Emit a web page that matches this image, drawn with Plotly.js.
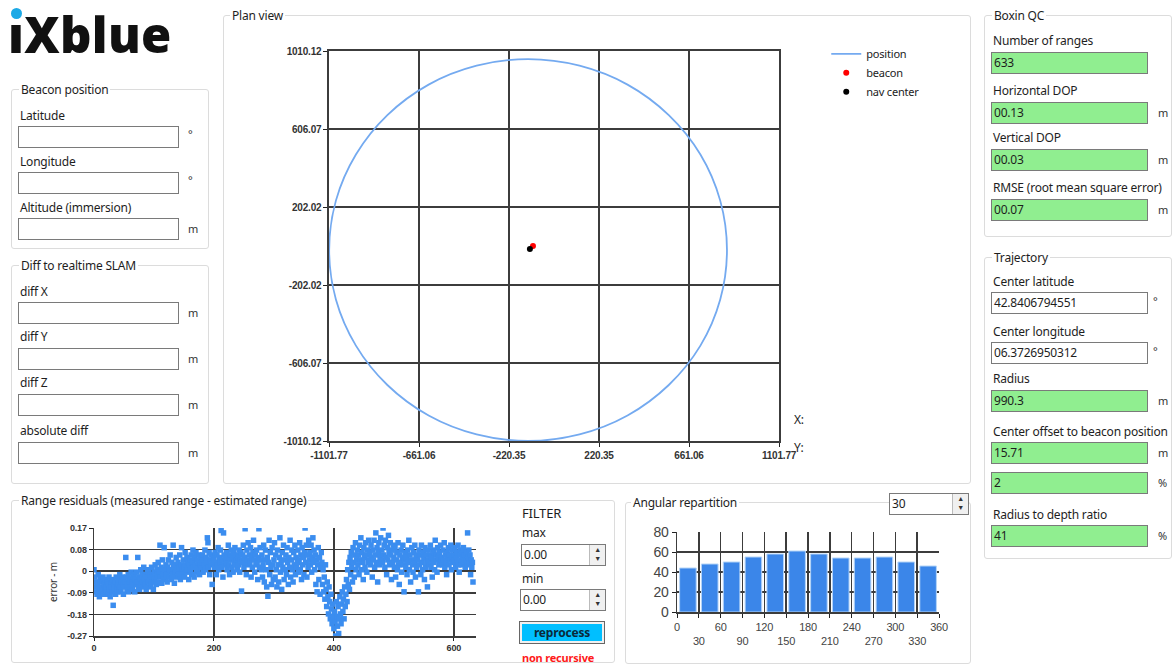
<!DOCTYPE html>
<html><head><meta charset="utf-8">
<script src="https://cdn.plot.ly/plotly-3.0.1.min.js"></script>
<style>
html,body{margin:0;padding:0;background:#fff;}
#root{position:relative;width:1174px;height:666px;overflow:hidden;font-family:"Noto Sans",sans-serif;font-size:12px;color:#1e1e1e;letter-spacing:-0.2px;}
.box{position:absolute;border:1px solid #dcdcdc;border-radius:3px;box-sizing:border-box;}
.ttl{position:absolute;background:#fff;padding:0 2px;line-height:14px;white-space:nowrap;}
.lbl{position:absolute;white-space:nowrap;line-height:14px;}
.inp{position:absolute;border:1px solid #7a7a7a;background:#fff;height:22px;line-height:20px;padding-left:2px;box-sizing:border-box;white-space:nowrap;}
.green{background:#90ee90;}
.unit{position:absolute;line-height:14px;font-size:11px;color:#333;}
.spin{position:absolute;width:16px;border-left:1px solid #bbb;background:#f0f0f0;box-sizing:border-box;font-size:7px;line-height:9px;text-align:center;color:#333;}
.plot{position:absolute;}
</style></head>
<body><div id="root">

<!-- logo -->
<div style="position:absolute;left:8px;top:4px;font-family:'Open Sans',sans-serif;font-weight:800;font-size:49px;letter-spacing:0.3px;color:#111;line-height:60px;">ıXblue</div>
<div style="position:absolute;left:11px;top:8px;width:11px;height:11px;border-radius:50%;background:#1ca9e6;"></div>

<!-- Beacon position -->
<div class="box" style="left:11px;top:89px;width:198px;height:160px;"></div>
<div class="ttl" style="left:19px;top:83px;">Beacon position</div>
<div class="lbl" style="left:20px;top:109px;">Latitude</div>
<div class="inp" style="left:18px;top:126px;width:161px;"></div><div class="unit" style="left:188px;top:127px;">°</div>
<div class="lbl" style="left:20px;top:155px;">Longitude</div>
<div class="inp" style="left:18px;top:172px;width:161px;"></div><div class="unit" style="left:188px;top:173px;">°</div>
<div class="lbl" style="left:20px;top:201px;">Altitude (immersion)</div>
<div class="inp" style="left:18px;top:218px;width:161px;"></div><div class="unit" style="left:188px;top:222px;">m</div>

<!-- Diff to realtime SLAM -->
<div class="box" style="left:11px;top:265px;width:198px;height:219px;"></div>
<div class="ttl" style="left:19px;top:259px;">Diff to realtime SLAM</div>
<div class="lbl" style="left:20px;top:285px;">diff X</div>
<div class="inp" style="left:18px;top:302px;width:161px;"></div><div class="unit" style="left:188px;top:306px;">m</div>
<div class="lbl" style="left:20px;top:330px;">diff Y</div>
<div class="inp" style="left:18px;top:348px;width:161px;"></div><div class="unit" style="left:188px;top:352px;">m</div>
<div class="lbl" style="left:20px;top:376px;">diff Z</div>
<div class="inp" style="left:18px;top:394px;width:161px;"></div><div class="unit" style="left:188px;top:398px;">m</div>
<div class="lbl" style="left:20px;top:424px;">absolute diff</div>
<div class="inp" style="left:18px;top:442px;width:161px;"></div><div class="unit" style="left:188px;top:446px;">m</div>

<!-- Plan view -->
<div class="box" style="left:223px;top:15px;width:748px;height:469px;"></div>
<div class="ttl" style="left:230px;top:9px;">Plan view</div>
<div id="plan" class="plot" style="left:230px;top:25px;width:735px;height:455px;"></div>
<div class="lbl" style="left:794px;top:413px;font-size:12px;">X:</div>
<div class="lbl" style="left:794px;top:441px;font-size:12px;">Y:</div>

<!-- Boxin QC -->
<div class="box" style="left:984px;top:15px;width:188px;height:222px;"></div>
<div class="ttl" style="left:992px;top:9px;">Boxin QC</div>
<div class="lbl" style="left:993px;top:34px;">Number of ranges</div>
<div class="inp green" style="left:991px;top:52px;width:157px;">633</div>
<div class="lbl" style="left:993px;top:84px;">Horizontal DOP</div>
<div class="inp green" style="left:991px;top:102px;width:157px;">00.13</div><div class="unit" style="left:1158px;top:106px;">m</div>
<div class="lbl" style="left:993px;top:131px;">Vertical DOP</div>
<div class="inp green" style="left:991px;top:149px;width:157px;">00.03</div><div class="unit" style="left:1158px;top:153px;">m</div>
<div class="lbl" style="left:993px;top:181px;">RMSE (root mean square error)</div>
<div class="inp green" style="left:991px;top:199px;width:157px;">00.07</div><div class="unit" style="left:1158px;top:203px;">m</div>

<!-- Trajectory -->
<div class="box" style="left:984px;top:257px;width:188px;height:302px;"></div>
<div class="ttl" style="left:992px;top:251px;">Trajectory</div>
<div class="lbl" style="left:993px;top:275px;">Center latitude</div>
<div class="inp" style="left:991px;top:292px;width:157px;">42.8406794551</div><div class="unit" style="left:1153px;top:294px;">°</div>
<div class="lbl" style="left:993px;top:325px;">Center longitude</div>
<div class="inp" style="left:991px;top:342px;width:157px;">06.3726950312</div><div class="unit" style="left:1153px;top:344px;">°</div>
<div class="lbl" style="left:993px;top:372px;">Radius</div>
<div class="inp green" style="left:991px;top:390px;width:157px;">990.3</div><div class="unit" style="left:1158px;top:394px;">m</div>
<div class="lbl" style="left:993px;top:425px;">Center offset to beacon position</div>
<div class="inp green" style="left:991px;top:442px;width:157px;">15.71</div><div class="unit" style="left:1158px;top:446px;">m</div>
<div class="inp green" style="left:991px;top:472px;width:157px;">2</div><div class="unit" style="left:1158px;top:476px;">%</div>
<div class="lbl" style="left:993px;top:508px;">Radius to depth ratio</div>
<div class="inp green" style="left:991px;top:525px;width:157px;">41</div><div class="unit" style="left:1158px;top:529px;">%</div>

<!-- Range residuals -->
<div class="box" style="left:11px;top:500px;width:604px;height:163px;"></div>
<div class="ttl" style="left:19px;top:494px;">Range residuals (measured range - estimated range)</div>
<div id="resid" class="plot" style="left:30px;top:515px;width:470px;height:145px;"></div>
<div class="lbl" style="left:522px;top:506px;font-size:13px;">FILTER</div>
<div class="lbl" style="left:522px;top:526px;">max</div>
<div class="inp" style="left:521px;top:544px;width:85px;">0.00</div><div class="spin" style="left:589px;top:545px;height:20px;">▲<br>▼</div>
<div class="lbl" style="left:522px;top:572px;">min</div>
<div class="inp" style="left:520px;top:589px;width:86px;">0.00</div><div class="spin" style="left:589px;top:590px;height:20px;">▲<br>▼</div>
<div style="position:absolute;left:519px;top:621px;width:86px;height:23px;border:1px solid #666;background:#f0f0f0;box-sizing:border-box;padding:2px;">
 <div style="background:#00bfff;height:17px;line-height:17px;text-align:center;font-weight:bold;font-size:12px;color:#0a2a3a;">reprocess</div></div>
<div class="lbl" style="left:522px;top:651px;color:#ff1a1a;font-weight:bold;font-size:11px;">non recursive</div>

<!-- Angular repartition -->
<div class="box" style="left:625px;top:502px;width:346px;height:162px;"></div>
<div class="ttl" style="left:631px;top:496px;">Angular repartition</div>
<div class="inp" style="left:889px;top:493px;width:80px;">30</div><div class="spin" style="left:952px;top:494px;height:20px;">▲<br>▼</div>
<div id="ang" class="plot" style="left:630px;top:520px;width:330px;height:140px;"></div>

</div>
<script>
// ---------- Plan view data ----------
const trajX = [847, 814, 717, 562, 360, 125, -127, -379, -614, -816, -970, -1068, -1101, -1068, -970, -816, -614, -379, -127, 125, 360, 562, 717, 814, 847];
const trajY = [-21, 235, 474, 678, 836, 934, 968, 934, 836, 678, 474, 235, -21, -277, -516, -720, -878, -976, -1010, -976, -878, -720, -516, -277, -21];
const beaconX = [-103], beaconY = [0];
const navX = [-118], navY = [-16];
const planXTicks = [-1101.77, -661.06, -220.35, 220.35, 661.06, 1101.77];
const planYTicks = [-1010.12, -606.07, -202.02, 202.02, 606.07, 1010.12];

// ---------- Range residuals (one value per range, index = range number) ----------
const residuals = [
-0.00,-0.03,-0.07,-0.09,-0.05,-0.10,-0.06,-0.02,-0.08,-0.11,-0.04,-0.07,-0.09,-0.05,-0.08,-0.03,-0.10,-0.06,-0.08,-0.04,
-0.07,-0.09,-0.05,-0.10,-0.06,-0.03,-0.08,-0.11,-0.05,-0.07,-0.09,-0.04,-0.145,-0.06,-0.08,-0.05,-0.10,-0.03,-0.07,-0.09,
-0.06,-0.04,-0.08,-0.02,-0.07,-0.09,-0.05,-0.03,-0.06,-0.10,-0.04,-0.07,-0.05,0.05,-0.03,-0.08,-0.06,-0.02,-0.09,-0.05,
-0.04,-0.07,-0.01,-0.05,-0.08,-0.03,-0.06,-0.02,-0.09,-0.04,-0.06,-0.01,-0.05,0.05,-0.07,-0.03,-0.08,-0.04,0.00,-0.06,
-0.02,-0.05,-0.07,0.01,-0.04,-0.06,-0.02,-0.08,-0.03,0.00,-0.05,-0.01,-0.07,-0.04,-0.02,-0.06,0.01,-0.03,-0.05,-0.08,
-0.01,-0.04,0.02,-0.03,-0.06,0.00,-0.02,0.03,-0.05,-0.01,0.10,-0.03,0.01,-0.055,0.04,-0.02,-0.04,0.09,0.00,-0.03,
0.02,-0.02,-0.05,0.01,0.04,-0.03,0.00,0.06,-0.01,-0.04,0.03,-0.02,0.10,0.01,-0.055,0.02,-0.01,0.05,-0.03,0.00,
0.03,-0.02,0.01,0.06,-0.04,0.02,0.09,0.00,-0.02,0.04,0.01,-0.03,0.07,0.02,-0.01,0.05,0.00,0.03,-0.04,0.02,
0.04,0.00,0.06,-0.02,0.03,0.08,0.01,-0.03,0.05,0.02,0.07,-0.01,0.04,0.00,0.03,0.06,-0.02,0.02,0.05,0.01,
0.03,0.06,-0.01,0.04,0.02,0.08,0.00,0.05,0.03,0.13,0.11,0.01,0.07,-0.02,0.04,0.02,0.06,-0.06,0.03,0.05,
0.04,0.01,0.07,0.03,-0.02,0.06,0.02,0.09,0.00,0.05,0.03,0.08,0.16,0.01,0.04,-0.03,0.15,0.06,0.02,0.05,
0.03,0.07,0.00,0.05,0.10,0.02,-0.02,0.06,0.04,0.08,0.01,0.05,-0.01,0.07,0.03,0.09,0.02,0.04,0.06,0.00,
0.05,0.02,0.08,-0.01,0.04,0.07,-0.087,0.03,0.06,0.10,0.01,0.05,0.167,0.03,-0.02,0.08,0.04,0.11,0.02,0.06,
0.03,0.09,-0.03,0.05,0.01,0.07,0.12,0.04,-0.01,0.06,0.02,0.08,0.03,-0.04,0.05,0.167,0.01,0.09,0.04,0.00,
0.06,-0.03,0.02,0.10,-0.05,0.04,0.08,0.00,-0.07,0.05,-0.108,0.03,0.12,-0.02,0.07,0.01,-0.06,0.09,0.02,-0.04,
0.04,0.11,-0.03,0.06,0.00,-0.07,0.08,0.02,-0.05,0.05,0.13,-0.01,0.03,-0.08,0.07,0.01,0.10,-0.04,0.04,0.00,
0.06,-0.02,0.09,0.03,-0.06,0.05,0.01,0.12,-0.03,0.04,0.08,0.00,-0.05,0.07,0.02,0.10,-0.02,0.05,0.01,0.03,
0.08,-0.01,0.04,0.11,0.00,0.06,-0.04,0.09,0.02,0.05,-0.02,0.07,0.17,0.03,0.10,-0.03,0.06,0.01,0.12,0.04,
0.07,0.02,0.10,-0.01,0.05,0.13,0.03,0.08,0.00,0.06,-0.06,0.04,-0.09,0.02,0.09,-0.04,0.05,-0.10,0.01,0.07,
0.03,-0.06,0.00,-0.09,-0.03,-0.12,0.02,-0.08,-0.15,-0.05,-0.11,-0.18,-0.07,-0.13,-0.20,-0.10,-0.16,-0.22,-0.14,-0.19,
-0.24,-0.17,-0.21,-0.27,-0.13,-0.19,-0.23,-0.15,-0.26,-0.20,-0.11,-0.18,-0.22,-0.14,-0.09,-0.17,-0.12,-0.20,-0.07,-0.15,
-0.10,-0.04,-0.13,0.00,-0.06,0.03,-0.08,0.05,-0.02,0.07,0.01,-0.05,0.09,0.03,-0.03,0.06,0.11,0.00,0.04,0.08,
0.02,0.06,-0.02,0.10,0.04,0.13,0.00,0.07,0.03,-0.04,0.09,0.05,0.01,0.11,0.06,-0.01,0.08,0.03,0.12,0.04,
0.07,0.02,0.10,0.05,-0.03,0.08,0.04,0.12,0.01,0.06,0.15,0.03,0.09,-0.05,0.07,0.11,0.02,0.05,0.13,0.04,
0.08,0.03,0.17,0.06,0.10,0.01,0.12,0.05,-0.02,0.09,0.04,0.14,0.07,0.02,0.11,0.06,-0.04,0.08,0.03,0.10,
0.05,0.01,0.09,-0.03,0.04,0.07,0.00,0.11,0.02,-0.06,0.06,0.03,0.08,-0.01,0.05,0.10,0.02,-0.09,0.04,0.07,
0.01,0.05,-0.02,0.08,0.03,0.12,0.00,0.06,-0.05,0.04,0.09,0.02,-0.01,0.07,0.03,0.10,-0.03,0.05,0.01,0.06,
0.04,-0.09,0.08,0.02,0.06,-0.02,0.10,0.03,0.00,0.07,0.05,-0.04,0.09,0.01,0.06,0.03,-0.07,0.08,0.04,0.02,
0.06,0.10,0.01,0.05,-0.03,0.08,0.03,0.07,0.00,0.12,0.04,0.06,-0.01,0.09,0.05,0.02,0.07,0.03,0.10,0.04,
0.05,0.02,0.08,0.04,0.11,0.01,0.06,0.03,-0.02,0.07,0.05,0.09,0.02,0.06,0.04,0.10,0.00,0.05,0.08,0.03,
0.06,0.04,0.09,0.01,0.05,0.07,0.03,0.10,0.02,-0.01,0.06,0.08,0.04,0.02,0.07,0.05,0.09,0.03,0.06,0.01,
0.04,0.07,0.02,0.15,0.05,0.08,0.03,0.06,-0.02,0.04,0.01,0.03,-0.05
];
const residYTicks = [-0.27, -0.182, -0.094, -0.006, 0.082, 0.17];
const residYLabels = ['-0.27', '-0.18', '-0.09', '0', '0.08', '0.17'];
const residXTicks = [0, 200, 400, 600];

// ---------- Angular repartition ----------
const binWidth = 30;
const binStarts = [0, 30, 60, 90, 120, 150, 180, 210, 240, 270, 300, 330];
const binCounts = [44, 48, 50, 55, 58, 61, 58, 54, 54, 55, 50, 46];
const angTicks = [0, 30, 60, 90, 120, 150, 180, 210, 240, 270, 300, 330, 360];
const angYTicks = [0, 20, 40, 60, 80];

const cfg = {staticPlot: true, displayModeBar: false};
const tickFont = {family: 'Liberation Sans, Arial, sans-serif', size: 9, color: '#333', weight: 'bold'};
const planTickFont = {family: 'Liberation Sans, Arial, sans-serif', size: 10, color: '#333', weight: 'bold'};
const grid = '#3c3c3c';

// Plan view
Plotly.newPlot('plan', [
  {x: trajX, y: trajY, type: 'scatter', mode: 'lines', name: 'position',
   line: {color: '#74aaf0', width: 1.8, shape: 'spline', smoothing: 1}},
  {x: beaconX, y: beaconY, type: 'scatter', mode: 'markers', name: 'beacon',
   marker: {color: '#ff0000', size: 6}},
  {x: navX, y: navY, type: 'scatter', mode: 'markers', name: 'nav center',
   marker: {color: '#000000', size: 6}}
], {
  width: 735, height: 455,
  margin: {l: 99, r: 186, t: 26, b: 39},
  paper_bgcolor: 'rgba(0,0,0,0)', plot_bgcolor: '#fff',
  showlegend: true,
  legend: {x: 1.105, y: 1.03, xanchor: 'left', yanchor: 'top', bgcolor: 'rgba(0,0,0,0)',
           font: {family: 'Noto Sans, sans-serif', size: 11, color: '#222'}, itemwidth: 30, tracegroupgap: 0},
  xaxis: {range: [-1101.77, 1101.77], tickvals: planXTicks, ticktext: planXTicks.map(v => v.toFixed(2)),
          showgrid: true, gridcolor: grid, gridwidth: 1.6, zeroline: false,
          showline: true, linecolor: grid, linewidth: 1.6, mirror: true,
          ticks: 'outside', ticklen: 4, tickcolor: '#222', tickfont: planTickFont},
  yaxis: {range: [-1010.12, 1010.12], tickvals: planYTicks, ticktext: planYTicks.map(v => v.toFixed(2)),
          showgrid: true, gridcolor: grid, gridwidth: 1.6, zeroline: false,
          showline: true, linecolor: grid, linewidth: 1.6, mirror: true,
          ticks: 'outside', ticklen: 4, tickcolor: '#222', tickfont: planTickFont}
}, cfg);

// Range residuals
Plotly.newPlot('resid', [
  {x: residuals.map((_, i) => i), y: residuals, type: 'scatter', mode: 'markers',
   marker: {color: '#3b8def', size: 5.5, symbol: 'square'}, cliponaxis: true}
], {
  width: 470, height: 145,
  margin: {l: 64, r: 24, t: 13, b: 24},
  paper_bgcolor: 'rgba(0,0,0,0)', plot_bgcolor: '#fff', showlegend: false,
  xaxis: {range: [0, 637], tickvals: residXTicks, showgrid: true, gridcolor: grid, gridwidth: 1.5,
          zeroline: false, showline: true, linecolor: grid, linewidth: 1.5,
          ticks: 'outside', ticklen: 3, tickcolor: '#222', tickfont: tickFont},
  yaxis: {range: [-0.27, 0.17], tickvals: residYTicks, ticktext: residYLabels,
          showgrid: true, gridcolor: grid, gridwidth: 1.5, zeroline: false,
          showline: true, linecolor: grid, linewidth: 1.5,
          ticks: 'outside', ticklen: 4, tickcolor: '#222', tickfont: tickFont,
          title: {text: 'error - m', standoff: 6, font: {family: 'Noto Sans, sans-serif', size: 10, color: '#333'}}}
}, cfg);

// Angular repartition
Plotly.newPlot('ang', [
  {x: binStarts.map(s => s + binWidth / 2), y: binCounts, type: 'bar', width: binWidth * 0.76,
   marker: {color: '#3b86e9', line: {color: '#b4d4f7', width: 1}}}
], {
  width: 330, height: 140,
  margin: {l: 47, r: 21, t: 12, b: 48},
  paper_bgcolor: 'rgba(0,0,0,0)', plot_bgcolor: '#fff', showlegend: false,
  xaxis: {range: [0, 360], tickvals: angTicks,
          ticktext: angTicks.map((v, i) => i % 2 ? '<br>' + v : String(v)),
          showgrid: true, gridcolor: grid, gridwidth: 1.5, zeroline: false,
          showline: true, linecolor: grid, linewidth: 1.5,
          ticks: 'outside', ticklen: 4, tickcolor: '#222',
          tickfont: {family: 'Liberation Sans, Arial, sans-serif', size: 11, color: '#444'}},
  yaxis: {range: [0, 80], tickvals: angYTicks, showgrid: true, gridcolor: grid, gridwidth: 1.5,
          zeroline: false, showline: true, linecolor: grid, linewidth: 1.5,
          ticks: 'outside', ticklen: 4, tickcolor: '#222',
          tickfont: {family: 'Liberation Sans, Arial, sans-serif', size: 14, color: '#444'}}
}, cfg);
</script>
</body></html>
